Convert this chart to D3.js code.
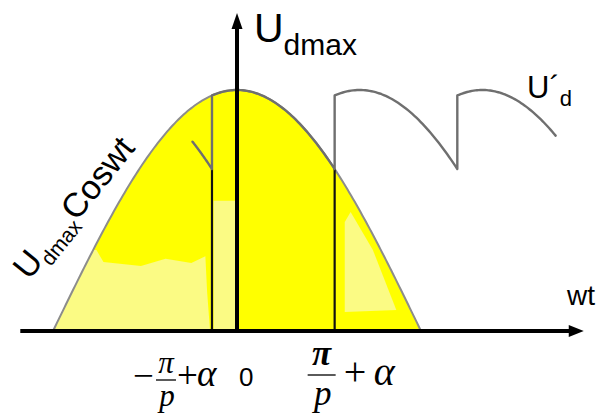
<!DOCTYPE html>
<html>
<head>
<meta charset="utf-8">
<script src="https://cdn.jsdelivr.net/npm/d3@7"></script>
<style>
  html, body { margin: 0; padding: 0; background: #fff; }
  svg { display: block; }
</style>
</head>
<body>
<svg id="chart" width="597" height="416"></svg>
<script>
// Rectifier output: envelope Udmax·cos(wt) and the p-pulse output U'd
const pulses = 6;                 // p
const alpha = 0.31;               // firing delay α, rad
const envelopeDomain = [-Math.PI / 2, Math.PI / 2];
const pulseIndex = [-1, 0, 1, 2]; // pulses shown on the U'd trace
const pulseVisible = [-0.38, 2.72]; // part of the U'd trace that is drawn, rad
const axisExtentX = [-1.85, 2.96];
const axisExtentY = 1.32;
const tickValues = [-Math.PI / pulses + alpha, 0, Math.PI / pulses + alpha];

// shading patches inside the envelope, [wt, value]
const paleLeft = [[-1.70, 0], [-1.70, 0.34], [-1.20, 0.336], [-1.14, 0.286], [-0.82, 0.27],
                  [-0.61, 0.30], [-0.39, 0.282], [-0.27, 0.31], [-0.255, 0.162], [-0.23, 0]];
const paleStrip = [[-0.20, 0], [-0.20, 0.54], [-0.015, 0.54], [-0.015, 0]];
const paleRight = [[0.92, 0.452], [0.97, 0.494], [1.16, 0.336], [1.36, 0.087], [0.92, 0.079]];

const svg = d3.select("#chart");
const x = d3.scaleLinear().domain(envelopeDomain).range([53, 421]);
const y = d3.scaleLinear().domain([0, 1]).range([331, 90]);

const sample = (a, b, n) => d3.range(n + 1).map(i => a + (b - a) * i / n);
const envelope = sample(envelopeDomain[0], envelopeDomain[1], 200).map(t => [t, Math.cos(t)]);
const area = d3.area().x(d => x(d[0])).y0(y(0)).y1(d => y(d[1]));

// clip for the shaded envelope
svg.append("clipPath").attr("id", "env").append("path").attr("d", area(envelope));
svg.append("path").attr("d", area(envelope)).attr("fill", "#ffff00");

const poly = d3.line().x(d => x(d[0])).y(d => y(d[1]));
const shade = svg.append("g").attr("clip-path", "url(#env)");
[paleLeft, paleStrip, paleRight].forEach(pts => {
  shade.append("path").attr("d", poly(pts) + "Z").attr("fill", "#fbfb84");
});

// envelope outline
svg.append("path")
  .attr("d", poly(envelope))
  .attr("fill", "none").attr("stroke", "#8c8c8c").attr("stroke-width", 2);

// commutation instants: black lines up to the end of each pulse
const step = 2 * Math.PI / pulses;
const pulseEnd = Math.cos(Math.PI / pulses + alpha);
[tickValues[0], tickValues[2]].forEach(t => {
  svg.append("line")
    .attr("x1", x(t)).attr("x2", x(t))
    .attr("y1", y(0)).attr("y2", y(pulseEnd))
    .attr("stroke", "#111").attr("stroke-width", 2.2);
});

// U'd trace: consecutive cosine caps joined by vertical jumps
const ud = [];
pulseIndex.forEach(k => {
  const lo = Math.max(-Math.PI / pulses + alpha + k * step, pulseVisible[0]);
  const hi = Math.min(Math.PI / pulses + alpha + k * step, pulseVisible[1]);
  sample(lo, hi, 60).forEach(t => ud.push([t, Math.cos(t - k * step)]));
});
svg.append("path")
  .attr("d", poly(ud))
  .attr("fill", "none").attr("stroke", "#6f6f6f").attr("stroke-width", 2.4)
  .attr("stroke-linejoin", "round").attr("stroke-linecap", "round");

// axes with arrowheads
const x0 = x(0), yb = y(0);
const xEnd = x(axisExtentX[1]), yTop = y(axisExtentY);
svg.append("line").attr("x1", x(axisExtentX[0])).attr("x2", xEnd - 10)
  .attr("y1", yb).attr("y2", yb).attr("stroke", "#000").attr("stroke-width", 4);
svg.append("path")
  .attr("d", `M${xEnd},${yb} L${xEnd - 15},${yb - 6} L${xEnd - 15},${yb + 6} Z`)
  .attr("fill", "#000");
svg.append("line").attr("x1", x0).attr("x2", x0)
  .attr("y1", yb).attr("y2", yTop + 10).attr("stroke", "#000").attr("stroke-width", 4);
svg.append("path")
  .attr("d", `M${x0},${yTop} L${x0 - 5.5},${yTop + 16} L${x0 + 5.5},${yTop + 16} Z`)
  .attr("fill", "#000");

// text labels
const sans = "Liberation Sans, Arial, sans-serif";
const serif = "Liberation Serif, Times New Roman, serif";

const yLab = svg.append("text").attr("x", x0 + 17).attr("y", 42)
  .attr("font-family", sans).attr("fill", "#000");
yLab.append("tspan").attr("font-size", 41).text("U");
yLab.append("tspan").attr("font-size", 30).attr("dy", 13).text("dmax");

const udLab = svg.append("text").attr("x", 527).attr("y", 98)
  .attr("font-family", sans).attr("fill", "#000");
udLab.append("tspan").attr("font-size", 31).text("U´");
udLab.append("tspan").attr("font-size", 22).attr("dy", 8).text("d");

svg.append("text").attr("x", 567).attr("y", 305)
  .attr("font-family", sans).attr("font-size", 28).attr("fill", "#000").text("wt");

const envLab = svg.append("text")
  .attr("transform", "translate(29,281) rotate(-51)")
  .attr("font-family", sans).attr("fill", "#000");
envLab.append("tspan").attr("font-size", 34).text("U");
envLab.append("tspan").attr("font-size", 21).attr("dy", 8).text("dmax");
envLab.append("tspan").attr("font-size", 34).attr("dy", -8).text("Coswt");

// tick labels below the axis: (±)π/p + α, one text element each, plus fraction bar
function fracLabel(bx, by, o) {
  const t = svg.append("text").attr("font-family", serif).attr("font-size", o.size).attr("fill", "#000");
  if (o.neg) t.append("tspan").attr("x", bx - 23).attr("y", by + 8)
    .attr("font-size", o.opSize).text("\u2212");
  t.append("tspan").attr("x", bx + o.w / 2).attr("y", by + o.piY)
    .attr("text-anchor", "middle").attr("font-style", "italic")
    .attr("font-weight", o.bold ? "bold" : "normal").text("π");
  t.append("tspan").attr("x", bx + o.w / 2 + 1).attr("y", by + o.pY)
    .attr("text-anchor", "middle").attr("font-style", "italic").text("p");
  t.append("tspan").attr("x", bx + o.plusX).attr("y", by + o.plusY)
    .attr("font-size", o.opSize).text("+");
  t.append("tspan").attr("x", bx + o.alphaX).attr("y", by + o.alphaY)
    .attr("font-size", o.opSize).attr("font-style", "italic").text("α");
  svg.append("line").attr("x1", bx).attr("x2", bx + o.w).attr("y1", by).attr("y2", by)
    .attr("stroke", "#000").attr("stroke-width", 1.3);
}
fracLabel(x(tickValues[0]) - 56, 380,
  { size: 31, opSize: 37, neg: true, w: 20, piY: -7, pY: 26, plusX: 21, plusY: 8, alphaX: 41, alphaY: 6 });
svg.append("text").attr("x", x(tickValues[1]) + 2).attr("y", 386)
  .attr("font-family", sans).attr("font-size", 26).attr("fill", "#000").text("0");
fracLabel(x(tickValues[2]) - 27, 375,
  { size: 35, opSize: 40, neg: false, bold: true, w: 28, piY: -10, pY: 30, plusX: 36, plusY: 10, alphaX: 66, alphaY: 10 });
</script>
</body>
</html>
